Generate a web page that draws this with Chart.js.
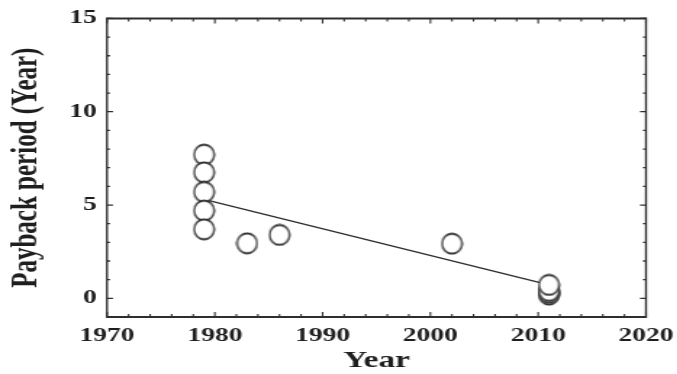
<!DOCTYPE html>
<html>
<head>
<meta charset="utf-8">
<script src="https://cdn.jsdelivr.net/npm/chart.js@4"></script>
<style>
  html, body { margin: 0; padding: 0; background: #fff; overflow: hidden; }
  /* the source figure is stretched sideways, so the canvas is too */
  #wrap { width: 467px; height: 374px; transform: scaleX(1.45); transform-origin: 0 0; }
</style>
</head>
<body>
<div id="wrap"><canvas id="myChart" width="467" height="374"></canvas></div>
<script>
// values
let years = [1979, 1979, 1979, 1979, 1979, 1983, 1986, 2002, 2011, 2011, 2011, 2011];
let payback = [7.7, 6.75, 5.7, 4.7, 3.7, 2.95, 3.4, 2.93, 0.2, 0.3, 0.4, 0.72];
let trendYears = [1979, 2011];
let trendValues = [5.3, 0.72];
let xTicks = [1970, 1980, 1990, 2000, 2010, 2020];
let yTicks = [0, 5, 10, 15];

const stretch = 1.45;
const ink = '#2e2e2e';

// ring marker, squeezed so it looks round after the stretch
function makeRing() {
  let r = 10;
  let c = document.createElement('canvas');
  c.width = Math.ceil((2 * r + 3) / stretch);
  c.height = 2 * r + 3;
  let g = c.getContext('2d');
  g.translate(c.width / 2, c.height / 2);
  g.scale(1 / stretch, 1);
  g.beginPath();
  g.arc(0, 0, r, 0, Math.PI * 2);
  g.fillStyle = '#fff';
  g.fill();
  g.lineWidth = 1.8;
  g.strokeStyle = ink;
  g.stroke();
  return c;
}

// box frame with inward ticks on all four sides
const frameTicks = {
  id: 'frameTicks',
  beforeDatasetsDraw(chart) {
    const { ctx, chartArea: a, scales: { x, y } } = chart;
    ctx.save();
    ctx.strokeStyle = ink;
    ctx.lineWidth = 1.3 / stretch * 1.2;
    for (let v = xTicks[0]; v <= xTicks[xTicks.length - 1]; v += 2) {
      let px = x.getPixelForValue(v);
      let len = xTicks.includes(v) ? 5 : 3;
      ctx.beginPath();
      ctx.moveTo(px, a.bottom); ctx.lineTo(px, a.bottom - len);
      ctx.moveTo(px, a.top); ctx.lineTo(px, a.top + len);
      ctx.stroke();
    }
    ctx.lineWidth = 1.3;
    for (let v = 0; v <= yTicks[yTicks.length - 1]; v += 1) {
      let py = y.getPixelForValue(v);
      let len = (yTicks.includes(v) ? 6 : 3) / stretch;
      ctx.beginPath();
      ctx.moveTo(a.left, py); ctx.lineTo(a.left + len, py);
      ctx.moveTo(a.right, py); ctx.lineTo(a.right - len, py);
      ctx.stroke();
    }
    // frame
    ctx.lineWidth = 2;
    ctx.beginPath();
    ctx.moveTo(a.left, a.top); ctx.lineTo(a.right, a.top);
    ctx.moveTo(a.left, a.bottom); ctx.lineTo(a.right, a.bottom);
    ctx.stroke();
    ctx.lineWidth = 2 / stretch;
    ctx.beginPath();
    ctx.moveTo(a.left, a.top - 1); ctx.lineTo(a.left, a.bottom + 1);
    ctx.moveTo(a.right, a.top - 1); ctx.lineTo(a.right, a.bottom + 1);
    ctx.stroke();
    ctx.restore();
  }
};

let ctx = document.getElementById('myChart').getContext('2d');

let myChart = new Chart(ctx, {
  data: {
    datasets: [{
      type: 'scatter',
      data: years.map((yr, i) => ({ x: yr, y: payback[i] })),
      pointStyle: makeRing(),
      order: 1
    }, {
      type: 'line',
      data: trendYears.map((yr, i) => ({ x: yr, y: trendValues[i] })),
      borderColor: ink,
      borderWidth: 1.3,
      pointRadius: 0,
      fill: false,
      order: 2
    }]
  },
  options: {
    responsive: false,
    animation: false,
    events: [],
    devicePixelRatio: 1,
    layout: { padding: { top: 15, right: 21.5, left: 0, bottom: 0 } },
    plugins: { legend: { display: false }, tooltip: { enabled: false } },
    scales: {
      x: {
        type: 'linear',
        min: xTicks[0],
        max: xTicks[xTicks.length - 1],
        grid: { display: false, drawTicks: false },
        border: { display: false },
        afterBuildTicks: s => { s.ticks = xTicks.map(v => ({ value: v })); },
        afterFit: s => { s.height = 57; s.paddingLeft = 0; s.paddingRight = 0; },
        ticks: {
          padding: 8,
          maxRotation: 0,
          color: '#1e1e1e',
          font: { family: 'Liberation Serif', size: 19, weight: 'bold' },
          callback: v => String(v)
        },
        title: {
          display: true,
          text: 'Year',
          color: '#1e1e1e',
          padding: { top: 0, bottom: -1 },
          font: { family: 'Liberation Serif', size: 23, weight: 'bold' }
        }
      },
      y: {
        type: 'linear',
        min: -1,
        max: 15,
        grid: { display: false, drawTicks: false },
        border: { display: false },
        afterBuildTicks: s => { s.ticks = yTicks.map(v => ({ value: v })); },
        afterFit: s => { s.width = 107 / stretch; },
        ticks: {
          padding: 7,
          color: '#1e1e1e',
          font: { family: 'Liberation Serif', size: 19, weight: 'bold' },
          callback: v => String(v)
        },
        title: {
          display: true,
          text: 'Payback period (Year)',
          color: '#1e1e1e',
          padding: { top: 4, bottom: 0 },
          font: { family: 'Liberation Serif', size: 25, weight: 'bold' }
        }
      }
    }
  },
  plugins: [frameTicks]
});
</script>
</body>
</html>
